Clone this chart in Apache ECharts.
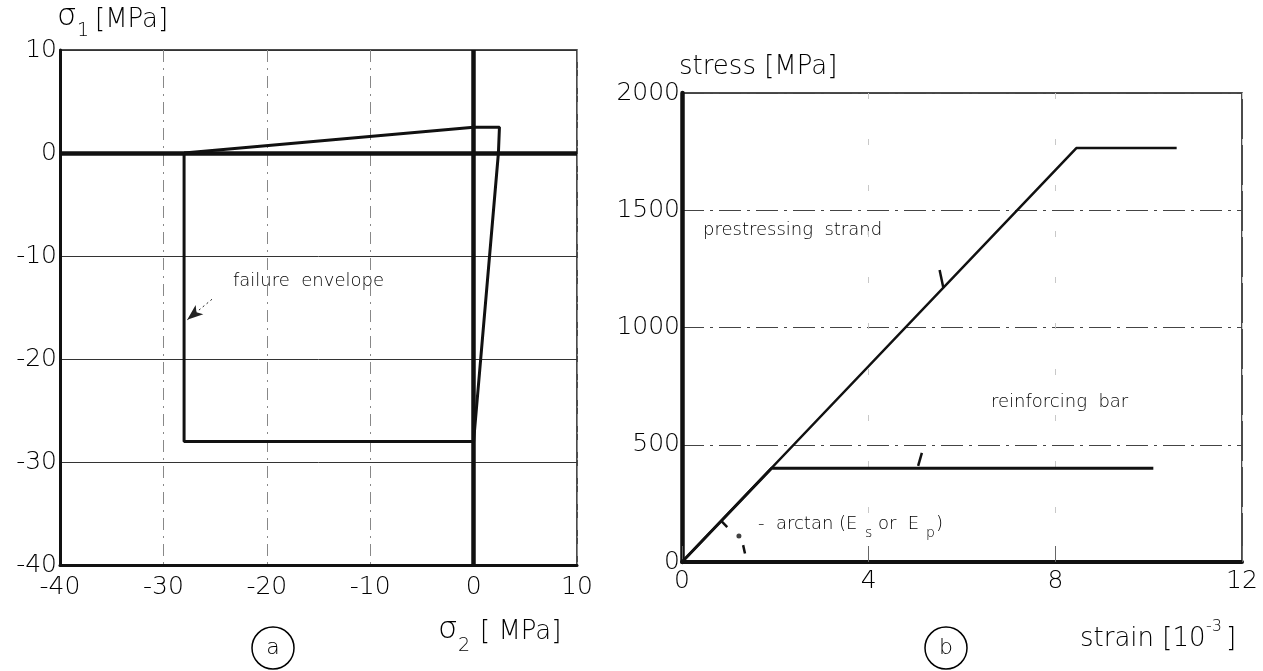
<!DOCTYPE html>
<html><head><meta charset="utf-8">
<script src="https://cdn.jsdelivr.net/npm/echarts@6/dist/echarts.min.js"></script>
<style>html,body{margin:0;padding:0;background:#fff}#c{width:1263px;height:671px}</style>
</head><body><div id="c"></div>
<script>
// ---- Panel (a): biaxial failure envelope (sigma2, sigma1) in MPa ----
const envelopeSigma2 = [-28, 0, 2.5, 2.4, 0, -28, -28];
const envelopeSigma1 = [0, 2.5, 2.5, 0, -28, -28, 0];
const sigmaTicks = [-40, -30, -20, -10, 0, 10];
// ---- Panel (b): stress-strain diagrams ----
const strandStrain = [0, 8.45, 10.6];
const strandStress = [0, 1765, 1765];
const barStrain = [0, 1.92, 10.1];
const barStress = [0, 400, 400];
const strainTicks = [0, 4, 8, 12];
const stressTicks = [0, 500, 1000, 1500, 2000];

const FONT = 'DejaVu Sans';
const TXT = '#000';
const INK = '#111';
const W = 200;
const zip = (a, b) => a.map((v, i) => [v, b[i]]);
const step = t => t[1] - t[0];
const f = (w, s) => w + ' ' + s + 'px "DejaVu Sans"';

const chart = echarts.init(document.getElementById('c'), null, {renderer: 'canvas'});

const labelStyle = {color: TXT, fontFamily: FONT, fontWeight: W, fontSize: 25, formatter: v => String(v)};

const option = {
  backgroundColor: '#fff',
  animation: false,
  grid: [
    {left: 60, top: 50, width: 517, height: 515, show: true, borderColor: INK, borderWidth: 1.5, outerBoundsMode: 'none'},
    {left: 682, top: 93, width: 560, height: 469, show: true, borderColor: INK, borderWidth: 1.5, outerBoundsMode: 'none'}
  ],
  xAxis: [
    {gridIndex: 0, type: 'value', min: sigmaTicks[0], max: sigmaTicks[sigmaTicks.length - 1], interval: step(sigmaTicks),
     axisLine: {onZero: false, lineStyle: {color: INK, width: 3}}, axisTick: {show: false},
     axisLabel: Object.assign({margin: 10}, labelStyle),
     splitLine: {show: true, lineStyle: {color: '#888', width: 1, type: [12, 6, 2, 6]}}},
    {gridIndex: 1, type: 'value', min: strainTicks[0], max: strainTicks[strainTicks.length - 1], interval: step(strainTicks),
     axisLine: {onZero: false, lineStyle: {color: INK, width: 4}},
     axisTick: {show: true, inside: true, length: 16, lineStyle: {color: '#666', width: 1}},
     axisLabel: Object.assign({margin: 7}, labelStyle),
     splitLine: {show: true, lineStyle: {color: '#c8c8c8', width: 1, type: [6, 40]}}}
  ],
  yAxis: [
    {gridIndex: 0, type: 'value', min: sigmaTicks[0], max: sigmaTicks[sigmaTicks.length - 1], interval: step(sigmaTicks),
     axisLine: {onZero: false, lineStyle: {color: INK, width: 3}}, axisTick: {show: false},
     axisLabel: Object.assign({margin: 3}, labelStyle),
     splitLine: {show: true, lineStyle: {color: '#333', width: 1}}},
    {gridIndex: 1, type: 'value', min: stressTicks[0], max: stressTicks[stressTicks.length - 1], interval: step(stressTicks),
     axisLine: {onZero: false, lineStyle: {color: INK, width: 4.5}}, axisTick: {show: false},
     axisLabel: Object.assign({margin: 2}, labelStyle),
     splitLine: {show: true, lineStyle: {color: '#444', width: 1, type: [22, 6, 3, 6]}}}
  ],
  series: [
    {
      name: 'zero axes', type: 'line', xAxisIndex: 0, yAxisIndex: 0, data: [], silent: true,
      markLine: {silent: true, symbol: 'none', label: {show: false},
        lineStyle: {color: INK, width: 4.5, type: 'solid'},
        data: [{xAxis: 0}, {yAxis: 0}]}
    },
    {
      name: 'failure envelope', type: 'line', xAxisIndex: 0, yAxisIndex: 0,
      data: zip(envelopeSigma2, envelopeSigma1), symbol: 'none',
      lineStyle: {color: INK, width: 3}, z: 5
    },
    {
      name: 'envelope pointer', type: 'line', xAxisIndex: 0, yAxisIndex: 0, data: [], silent: true,
      markLine: {silent: true, symbol: ['none', 'arrow'], symbolSize: [9, 16], label: {show: false},
        lineStyle: {color: '#222', width: 1, type: [2, 3]},
        data: [[{coord: [-25.3, -14.2]}, {coord: [-27.7, -16.2]}]]}
    },
    {
      name: 'prestressing strand', type: 'line', xAxisIndex: 1, yAxisIndex: 1,
      data: zip(strandStrain, strandStress), symbol: 'none',
      lineStyle: {color: INK, width: 2.5}, z: 5
    },
    {
      name: 'reinforcing bar', type: 'line', xAxisIndex: 1, yAxisIndex: 1,
      data: zip(barStrain, barStress), symbol: 'none',
      lineStyle: {color: INK, width: 3}, z: 5
    },
    {
      name: 'leader ticks', type: 'line', xAxisIndex: 1, yAxisIndex: 1, data: [], silent: true,
      markLine: {silent: true, symbol: 'none', label: {show: false},
        lineStyle: {color: INK, width: 2.5, type: 'solid'},
        data: [
          [{coord: [5.52, 1245]}, {coord: [5.6, 1170]}],
          [{coord: [5.14, 465]}, {coord: [5.06, 410]}],
          [{coord: [0.84, 175]}, {coord: [0.97, 149]}],
          [{coord: [1.31, 72]}, {coord: [1.35, 36]}]
        ]}
    },
    {
      name: 'angle dot', type: 'scatter', xAxisIndex: 1, yAxisIndex: 1,
      data: [[1.22, 111]], symbolSize: 5, itemStyle: {color: INK}, silent: true
    }
  ],
  graphic: [
    // panel (a) axis names
    {type: 'text', left: 57, top: 1, style: {text: 'σ', font: f(W, 31), fill: TXT}},
    {type: 'text', left: 77, top: 22, style: {text: '1', font: f(W, 19), fill: TXT}},
    {type: 'text', left: 95, top: 7, style: {text: '[MPa]', font: f(W, 26), fill: TXT}},
    {type: 'text', left: 438, top: 614, style: {text: 'σ', font: f(W, 31), fill: TXT}},
    {type: 'text', left: 458, top: 637, style: {text: '2', font: f(W, 19), fill: TXT}},
    {type: 'text', left: 480, top: 619, style: {text: '[ MPa]', font: f(W, 26), fill: TXT}},
    {type: 'text', left: 233, top: 272, style: {text: 'failure  envelope', font: f(W, 18), fill: TXT}},
    {type: 'circle', shape: {cx: 273, cy: 648, r: 21}, style: {fill: 'none', stroke: TXT, lineWidth: 1.5}},
    {type: 'text', x: 273, y: 648, style: {text: 'a', font: f(W, 22), fill: TXT, align: 'center', verticalAlign: 'middle'}},
    // panel (b)
    {type: 'text', left: 679, top: 54, style: {text: 'stress [MPa]', font: f(W, 26), fill: TXT}},
    {type: 'text', left: 1080, top: 626, style: {text: 'strain [10', font: f(W, 26), fill: TXT}},
    {type: 'text', left: 1206, top: 619, style: {text: '-3', font: f(W, 16), fill: TXT}},
    {type: 'text', left: 1226, top: 626, style: {text: ']', font: f(W, 26), fill: TXT}},
    {type: 'text', left: 703, top: 221, style: {text: 'prestressing  strand', font: f(W, 18), fill: TXT}},
    {type: 'text', left: 991, top: 393, style: {text: 'reinforcing  bar', font: f(W, 18), fill: TXT}},
    {type: 'text', left: 758, top: 515, style: {text: '-  arctan (E', font: f(W, 18), fill: TXT}},
    {type: 'text', left: 865, top: 526, style: {text: 's', font: f(W, 14), fill: TXT}},
    {type: 'text', left: 878, top: 515, style: {text: 'or  E', font: f(W, 18), fill: TXT}},
    {type: 'text', left: 926, top: 526, style: {text: 'p', font: f(W, 14), fill: TXT}},
    {type: 'text', left: 936, top: 515, style: {text: ')', font: f(W, 18), fill: TXT}},
    {type: 'circle', shape: {cx: 946, cy: 648, r: 21}, style: {fill: 'none', stroke: TXT, lineWidth: 1.5}},
    {type: 'text', x: 946, y: 648, style: {text: 'b', font: f(W, 22), fill: TXT, align: 'center', verticalAlign: 'middle'}}
  ]
};
chart.setOption(option);
</script>
</body></html>
